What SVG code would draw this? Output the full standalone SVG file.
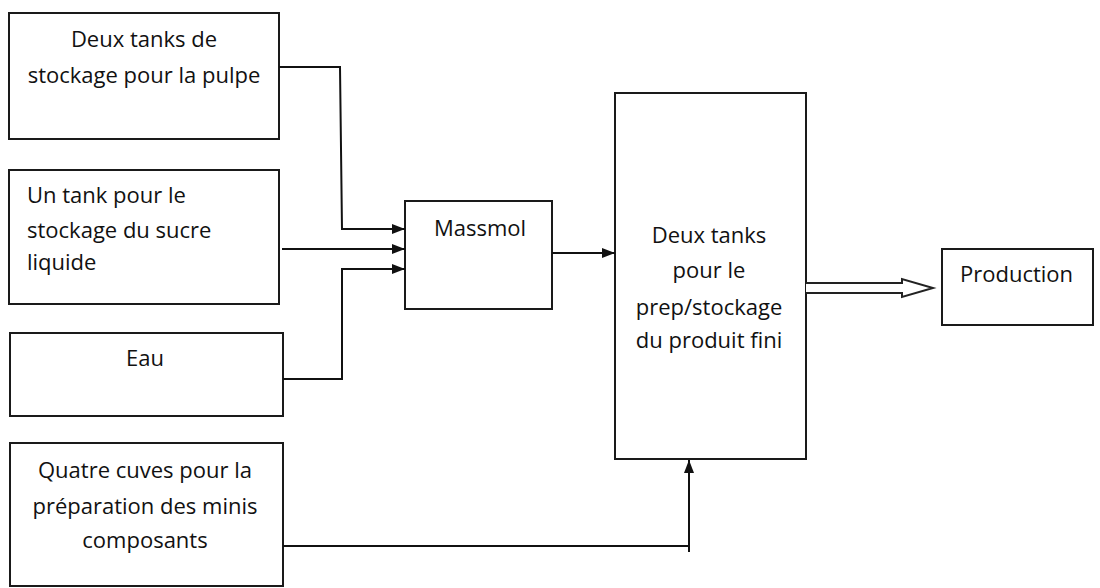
<svg xmlns="http://www.w3.org/2000/svg" width="1100" height="588" viewBox="0 0 1100 588">
<style>
.box{fill:#fff;stroke:#1a1a1a;stroke-width:2}
.t{font-family:"Open Sans","Liberation Sans",sans-serif;font-size:22px;fill:#111}
.c{text-anchor:middle}
.ln{fill:none;stroke:#111;stroke-width:2}
</style>
<defs>
<marker id="ah" markerWidth="14" markerHeight="12" refX="13" refY="6" orient="auto" markerUnits="userSpaceOnUse">
<path d="M0,1 L13,6 L0,11 z" fill="#111"/>
</marker>
</defs>
<rect width="1100" height="588" fill="#fff"/>
<g id="n1"><rect class="box" x="9" y="13" width="270" height="126"/>
<text class="t c" x="144" y="47">Deux tanks de</text>
<text class="t c" x="144" y="83">stockage pour la pulpe</text></g>
<g id="n2"><rect class="box" x="9" y="170" width="270" height="134"/>
<text class="t" x="27" y="203">Un tank pour le</text>
<text class="t" x="27" y="238">stockage du sucre</text>
<text class="t" x="27" y="270">liquide</text></g>
<g id="n3"><rect class="box" x="10" y="333" width="273" height="83"/>
<text class="t c" x="145" y="366">Eau</text></g>
<g id="n4"><rect class="box" x="10" y="443" width="273" height="143"/>
<text class="t c" x="145" y="478">Quatre cuves pour la</text>
<text class="t c" x="145" y="514">préparation des minis</text>
<text class="t c" x="145" y="548">composants</text></g>
<g id="n5"><rect class="box" x="405" y="201" width="147" height="108"/>
<text class="t c" x="480" y="236">Massmol</text></g>
<g id="n6"><rect class="box" x="615" y="93" width="191" height="366"/>
<text class="t c" x="709" y="243">Deux tanks</text>
<text class="t c" x="709" y="278">pour le</text>
<text class="t c" x="709" y="315">prep/stockage</text>
<text class="t c" x="709" y="348">du produit fini</text></g>
<g id="n7"><rect class="box" x="942" y="249" width="151" height="76"/>
<text class="t" x="960" y="282">Production</text></g>
<g id="connectors">
<polyline class="ln" points="279,67 340,67 342,229 405,229" marker-end="url(#ah)"/>
<polyline class="ln" points="282,249 405,249" marker-end="url(#ah)"/>
<polyline class="ln" points="283,379 342,379 342,269 405,269" marker-end="url(#ah)"/>
<polyline class="ln" points="552,253 615,253" marker-end="url(#ah)"/>
<polyline class="ln" points="283,546 689,546" />
<polyline class="ln" points="689,552 689,460" marker-end="url(#ah)"/>
<path d="M806,283 L902,283 L902,279 L933,288 L902,297 L902,293 L806,293" fill="#fff" stroke="#222" stroke-width="2" stroke-linejoin="miter"/>
</g>
</svg>
